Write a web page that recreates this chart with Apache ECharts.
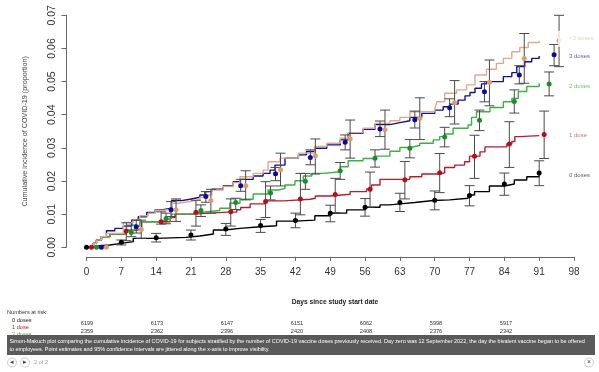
<!DOCTYPE html>
<html>
<head>
<meta charset="utf-8">
<style>html,body{margin:0;padding:0;background:#fff}#main{width:599px;height:372px}</style>
<script src="https://cdn.jsdelivr.net/npm/echarts@6/dist/echarts.min.js"></script>
</head>
<body>
<div id="main"></div>
<script>
var seriesNames = ['0 doses', '1 dose', '2 doses', '3 doses', '>3 doses'];
var colors = ['#000000', '#b3202c', '#3cb043', '#12128c', '#e0a98c'];
var pointColors = ['#000000', '#b3101c', '#1e8c28', '#0a0a96', '#e09a70'];
var labelColors = ['#333333', '#b5505a', '#4cb050', '#3a3a8c', '#e8c4b0'];
var xTicks = [0, 7, 14, 21, 28, 35, 42, 49, 56, 63, 70, 77, 84, 91, 98];

// step curves, [day, incidence]
var curve0 = [[0,0],[1,.0005],[2.7,.0007],[4.7,.0012],[7,.0017],[9.4,.0027],[14,.003],[20,.0034],[22.8,.004],[25.5,.0052],[27.8,.0057],[30.85,.0062],[34.9,.0065],[38.2,.0079],[41.9,.0082],[45.9,.0095],[49,.0103],[52.3,.0113],[56,.0121],[59,.0128],[61,.0131],[63,.0135],[66,.0141],[69.7,.0143],[73,.0148],[76.7,.0158],[78,.0168],[81,.0185],[84,.0191],[86,.0203],[88.5,.0213],[91,.0223]];
var curve1 = [[0,0],[1.4,.0012],[2,.0022],[3,.0032],[4.7,.004],[8,.0051],[10.1,.0057],[11.1,.0077],[14.8,.0077],[16.8,.009],[17.8,.01],[21.5,.0106],[28.2,.0106],[30.2,.0113],[31,.012],[32.9,.0131],[35.9,.014],[39.6,.0145],[45,.0148],[46,.0155],[49,.016],[53,.0168],[56.3,.0176],[57.3,.0188],[59,.0205],[63.7,.0205],[65,.0213],[67.4,.0221],[71,.0225],[72,.0241],[74,.0248],[76,.0258],[77,.0275],[79.1,.0288],[80.1,.0303],[84.5,.0312],[85.5,.0319],[86.1,.0334],[87.1,.0337],[91,.0339]];
var curve2 = [[0,0],[1.4,.0012],[2,.0022],[3,.0032],[4.7,.004],[8,.0052],[9.7,.0064],[10.7,.0077],[14.8,.0082],[15.8,.0087],[17.1,.01],[20.8,.0105],[22.8,.0111],[26.8,.0118],[28.8,.0133],[30.85,.0145],[33.5,.0161],[36.5,.0173],[38.6,.0178],[39.9,.0188],[41.9,.0201],[43.6,.0215],[45.3,.0223],[47.6,.0228],[51,.0243],[52.6,.0261],[55.6,.0268],[58,.0275],[61,.029],[63,.0301],[65,.0307],[67,.0314],[69.7,.0324],[71,.0334],[72,.0342],[73.7,.0359],[76.7,.0369],[77.4,.0392],[78.4,.0409],[81.1,.0422],[83.8,.0439],[85.5,.0449],[86.8,.047],[88.5,.0485],[91,.0495]];
var curve3 = [[0,0],[1.4,.0012],[2,.0022],[3,.0032],[4,.005],[5.7,.0057],[7.4,.0064],[9.1,.0082],[10.4,.0092],[12.1,.0105],[13.8,.0113],[15.1,.0118],[17.1,.0141],[19.1,.0145],[20.8,.0151],[22.8,.0158],[23.8,.0168],[25.2,.0175],[27.5,.0185],[29.5,.0198],[30.85,.0205],[33.5,.0215],[35.5,.0223],[36.9,.0233],[37.9,.0248],[39.9,.0269],[42.6,.0279],[44.2,.0289],[45.9,.0299],[48.3,.0309],[51,.0324],[52.6,.0344],[55.6,.0356],[58,.037],[61,.0376],[63,.0382],[65,.0392],[67.4,.0404],[70,.0414],[71.7,.0424],[73.1,.0432],[74.7,.0444],[76.1,.0457],[77.1,.0467],[78.1,.048],[79.4,.0493],[80.4,.05],[83.8,.0515],[85.5,.0527],[86.5,.0545],[88.1,.056],[89.5,.057],[91,.0577]];
var curve4 = [[0,0],[1.4,.0012],[2,.0022],[3,.0032],[4,.0042],[7.4,.0075],[9.4,.0084],[10.7,.0095],[12.4,.0103],[13.8,.0111],[15.1,.0115],[17.1,.0133],[18.5,.0138],[20.8,.0143],[22.8,.0151],[23.8,.0158],[25.2,.0173],[27.5,.0183],[29.5,.0195],[30.85,.0213],[33.5,.0223],[35.5,.0233],[36.5,.0258],[38.9,.0269],[42.6,.0284],[45.9,.0304],[48.3,.0314],[51,.0329],[52.6,.0346],[55.6,.0359],[58,.0374],[61,.0382],[63,.0392],[65,.0409],[70,.0416],[70.4,.0439],[72,.0465],[74.4,.0475],[76.4,.049],[78.1,.052],[80.4,.0537],[82.4,.0555],[83.8,.057],[85.5,.059],[87.1,.0603],[88.8,.0618],[91,.0623]];
var curves = [curve0, curve1, curve2, curve3, curve4];

// point estimates and 95% CI, one row per dose group, day jittered by group
var pointDays = [
  [0,7,14,21,28,35,42,49,56,63,70,77,84,91],
  [1,8,15,22,29,36,43,50,57,64,71,78,85,92],
  [2,9,16,23,30,37,44,51,58,65,72,79,86,93],
  [3,10,17,24,31,38,45,52,59,66,73,80,87,94],
  [4,11,18,25,32,39,46,53,60,67,74,81,88,95]
];
var est = [
  [0,.0015,.0029,.0037,.0055,.0066,.0081,.0103,.0121,.0135,.0142,.0156,.0191,.0224],
  [0,.0049,.0077,.0106,.0107,.0138,.0146,.0159,.0175,.0204,.0225,.0275,.0312,.034],
  [0,.0045,.0087,.0111,.0135,.0164,.0199,.0231,.0269,.0299,.0333,.0383,.044,.0493],
  [0,.0062,.0113,.0153,.0186,.0222,.0271,.0317,.0357,.0385,.0421,.0469,.052,.0581],
  [0,.0054,.0113,.0141,.0186,.0234,.0276,.0327,.0355,.0389,.0436,.0498,.057,.0624]
];
var low = [
  [0,.0007,.0016,.0022,.0036,.0045,.0059,.0077,.0094,.0108,.0113,.0125,.0157,.0186],
  [0,.002,.007,.0064,.0064,.009,.0098,.0105,.0121,.0146,.0165,.0208,.0241,.0268],
  [0,.0032,.0071,.0093,.0114,.0143,.0175,.0205,.0242,.027,.0303,.0352,.0405,.0457],
  [0,.0043,.0093,.0136,.0169,.0201,.0249,.0294,.0334,.036,.0394,.0439,.0493,.0548],
  [0,.0027,.0078,.0103,.0143,.0185,.0221,.0269,.0296,.0325,.0372,.0427,.0495,.0545]
];
var high = [
  [0,.0022,.0042,.0052,.0072,.0084,.0103,.0127,.0147,.0163,.017,.0186,.0224,.0261],
  [0,.0074,.0107,.0142,.0146,.0198,.0223,.0208,.0227,.0259,.0283,.0338,.0379,.0411],
  [0,.0067,.0103,.0128,.0148,.0185,.0223,.0256,.0294,.0325,.0362,.0414,.0475,.0529],
  [0,.0082,.0138,.0168,.0205,.0241,.0294,.0339,.0381,.0411,.0448,.05,.0548,.0612],
  [0,.0082,.0146,.0175,.0231,.0284,.0327,.0384,.0414,.0451,.0503,.0565,.0645,.07]
];

var labelDay = [97, 97, 97, 97, 94.8];
var labelY = [.0218, .0338, .0487, .0577, .0629];

var riskX = [87, 157, 227, 297, 366, 436, 506];
var risk0 = ['6199', '6173', '6147', '6151', '6062', '5998', '5917'];
var risk1 = ['2359', '2362', '2396', '2420', '2408', '2376', '2342'];
var caption1 = 'Simon-Makuch plot comparing the cumulative incidence of COVID-19 for subjects stratified by the number of COVID-19 vaccine doses previously received. Day zero was 12 September 2022, the day the bivalent vaccine began to be offered';
var caption2 = 'to employees. Point estimates and 95% confidence intervals are jittered along the x-axis to improve visibility.';

var FONT = '"Liberation Sans", Arial, sans-serif';
var chart = echarts.init(document.getElementById('main'), null, {renderer: 'canvas'});

var series = [];
seriesNames.forEach(function (name, i) {
  series.push({
    type: 'line', name: name, step: 'end', data: curves[i], showSymbol: false, silent: true,
    lineStyle: {color: colors[i], width: 1.4}, z: 3 + i, animation: false
  });
});
seriesNames.forEach(function (name, i) {
  series.push({
    type: 'custom', name: name + ' CI', clip: false, z: 10, animation: false, silent: true,
    data: pointDays[i].map(function (d, k) { return [d, low[i][k], high[i][k]]; }),
    renderItem: function (params, api) {
      var a = api.coord([api.value(0), api.value(1)]);
      var b = api.coord([api.value(0), api.value(2)]);
      var st = {stroke: '#4a4a4a', lineWidth: 1};
      var cap = 5;
      if (api.value(1) === api.value(2)) return {type: 'group', children: []};
      return {type: 'group', children: [
        {type: 'line', shape: {x1: a[0], y1: a[1], x2: b[0], y2: b[1]}, style: st},
        {type: 'line', shape: {x1: a[0] - cap, y1: a[1], x2: a[0] + cap, y2: a[1]}, style: st},
        {type: 'line', shape: {x1: b[0] - cap, y1: b[1], x2: b[0] + cap, y2: b[1]}, style: st}
      ]};
    }
  });
  series.push({
    type: 'scatter', name: name + ' est', z: 12, clip: false, animation: false, silent: true,
    symbolSize: 5, itemStyle: {color: pointColors[i], opacity: 1},
    data: pointDays[i].map(function (d, k) { return [d, est[i][k]]; })
  });
  // curve labels sit in white boxes, the >3 doses box covers part of the last CI bar
  series.push({
    type: 'scatter', name: name + ' label', z: 20, clip: false, animation: false, silent: true,
    symbolSize: 0,
    data: [[labelDay[i], labelY[i]]],
    label: {
      show: true, position: 'right', distance: 0, formatter: name, color: labelColors[i],
      fontFamily: FONT, fontSize: 6,
      backgroundColor: i === 4 ? '#fff' : 'transparent', padding: i === 4 ? [5, 3, 5, 10.9] : 0
    }
  });
});

var texts = [];
function addText(x, y, s, size, color, extra) {
  texts.push({type: 'text', x: x, y: y, z: 30, style: Object.assign({
    text: s, fontSize: size, fontFamily: FONT, fill: color, textAlign: 'left', textVerticalAlign: 'middle'
  }, extra || {})});
}
addText(335, 302, 'Days since study start date', 6.7, '#222', {textAlign: 'center', fontWeight: 'bold'});
addText(7, 312.7, 'Numbers at risk:', 5.6, '#333');
addText(12, 320, '0 doses', 5.6, '#222');
addText(12, 327.7, '1 dose', 5.6, colors[1]);
addText(12, 334.7, '2 doses', 5.6, colors[2]);
riskX.forEach(function (x, k) {
  addText(x, 323.7, risk0[k], 5.6, '#333', {textAlign: 'center'});
  addText(x, 331, risk1[k], 5.6, '#333', {textAlign: 'center'});
});
texts.push({type: 'rect', shape: {x: 7, y: 335, width: 588, height: 20}, z: 31, style: {fill: '#5a5a5a'}});
addText(9.5, 341, caption1, 5.45, '#fff');
addText(9.5, 349.5, caption2, 5.45, '#fff');
texts[texts.length - 1].z = 32; texts[texts.length - 2].z = 32;
[12, 25, 589].forEach(function (cx, i) {
  texts.push({type: 'circle', shape: {cx: cx, cy: 362.5, r: 4.5}, z: 30, style: {fill: '#fff', stroke: '#ccc', lineWidth: 1}});
  addText(cx, 362.5, ['\u25C2', '\u25B8', '\u00D7'][i], 7, '#444', {textAlign: 'center'});
});
addText(34, 362.5, '2 of 2', 5.6, '#999');

chart.setOption({
  animation: false,
  backgroundColor: '#fff',
  grid: {left: 86.5, right: 25, top: 15.3, bottom: 124.7},
  xAxis: {
    type: 'value', min: 0, max: 98, interval: 7, offset: 9.5,
    axisLine: {show: true, onZero: false, lineStyle: {color: '#666', width: 1}},
    axisTick: {show: true, length: 4, inside: false, lineStyle: {color: '#666'}},
    axisLabel: {fontSize: 10, color: '#333', fontFamily: FONT, margin: 10, hideOverlap: false,
      formatter: function (v) { return xTicks.indexOf(v) >= 0 ? String(v) : ''; }},
    splitLine: {show: false}
  },
  yAxis: {
    type: 'value', min: 0, max: 0.07, interval: 0.01, offset: 20,
    name: 'Cumulative incidence of COVID-19 (proportion)', nameLocation: 'middle', nameGap: 38,
    nameRotate: 90,
    nameTextStyle: {fontSize: 7.2, color: '#444', fontFamily: FONT},
    axisLine: {show: true, onZero: false, lineStyle: {color: '#666', width: 1}},
    axisTick: {show: true, length: 5, lineStyle: {color: '#666'}},
    axisLabel: {rotate: 90, fontSize: 10.5, color: '#333', fontFamily: FONT, margin: 9,
      formatter: function (v) { return v.toFixed(2); }},
    splitLine: {show: false}
  },
  series: series,
  graphic: {elements: texts}
});
</script>
</body>
</html>
